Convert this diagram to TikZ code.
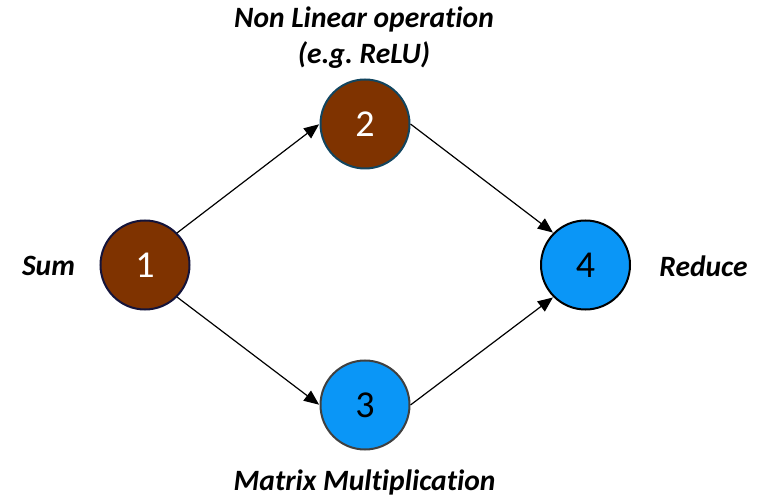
\documentclass[tikz,border=0pt]{standalone}
\usepackage{fontspec}
\setmainfont{Carlito}[Ligatures=NoCommon]
\usetikzlibrary{arrows.meta}
\definecolor{nodebrown}{HTML}{7F3300}
\definecolor{nodeblue}{HTML}{0A96F7}
\definecolor{rimnavy}{HTML}{14143A}
\definecolor{rimteal}{HTML}{12455F}
\definecolor{rimgray}{HTML}{404040}
\tikzset{
  opnode/.style={circle, minimum size=89pt, inner sep=0pt, line width=2pt,
    font=\fontsize{38}{40}\selectfont},
  brownop/.style={opnode, fill=nodebrown, text=white},
  blueop/.style={opnode, fill=nodeblue, text=black},
  oplabel/.style={font=\fontsize{29.5}{36}\selectfont\bfseries\itshape, align=center, inner sep=0pt},
  flow/.style={line width=1.2pt, -{Triangle[length=15pt,width=12.5pt]}, shorten >=0.5pt}
}
\begin{document}
\begin{tikzpicture}[x=1pt,y=-1pt]
  \useasboundingbox (0,0) rectangle (764,497);
  % operation nodes
  \node[brownop, draw=rimnavy] (n1) at (145,265) {1};
  \node[brownop, draw=rimteal] (n2) at (365,124) {2};
  \node[blueop, draw=rimgray]  (n3) at (365,405) {3};
  \node[blueop, draw=black]    (n4) at (585.5,265) {4};
  % labels
  \node[oplabel] (l1) at (48.5,266) {Sum};
  \node[oplabel] (l2) at (364,38) {Non Linear operation\\(e.g.\ ReLU)};
  \node[oplabel] (l3) at (364.5,482) {Matrix Multiplication};
  \node[oplabel] (l4) at (703.5,266) {Reduce};
  % data flow
  \draw[flow] (n1.north east) -- (n2.west);
  \draw[flow] (n1.south east) -- (n3.west);
  \draw[flow] (n2.east) -- (n4.north west);
  \draw[flow] (n3.east) -- (n4.south west);
\end{tikzpicture}
\end{document}
